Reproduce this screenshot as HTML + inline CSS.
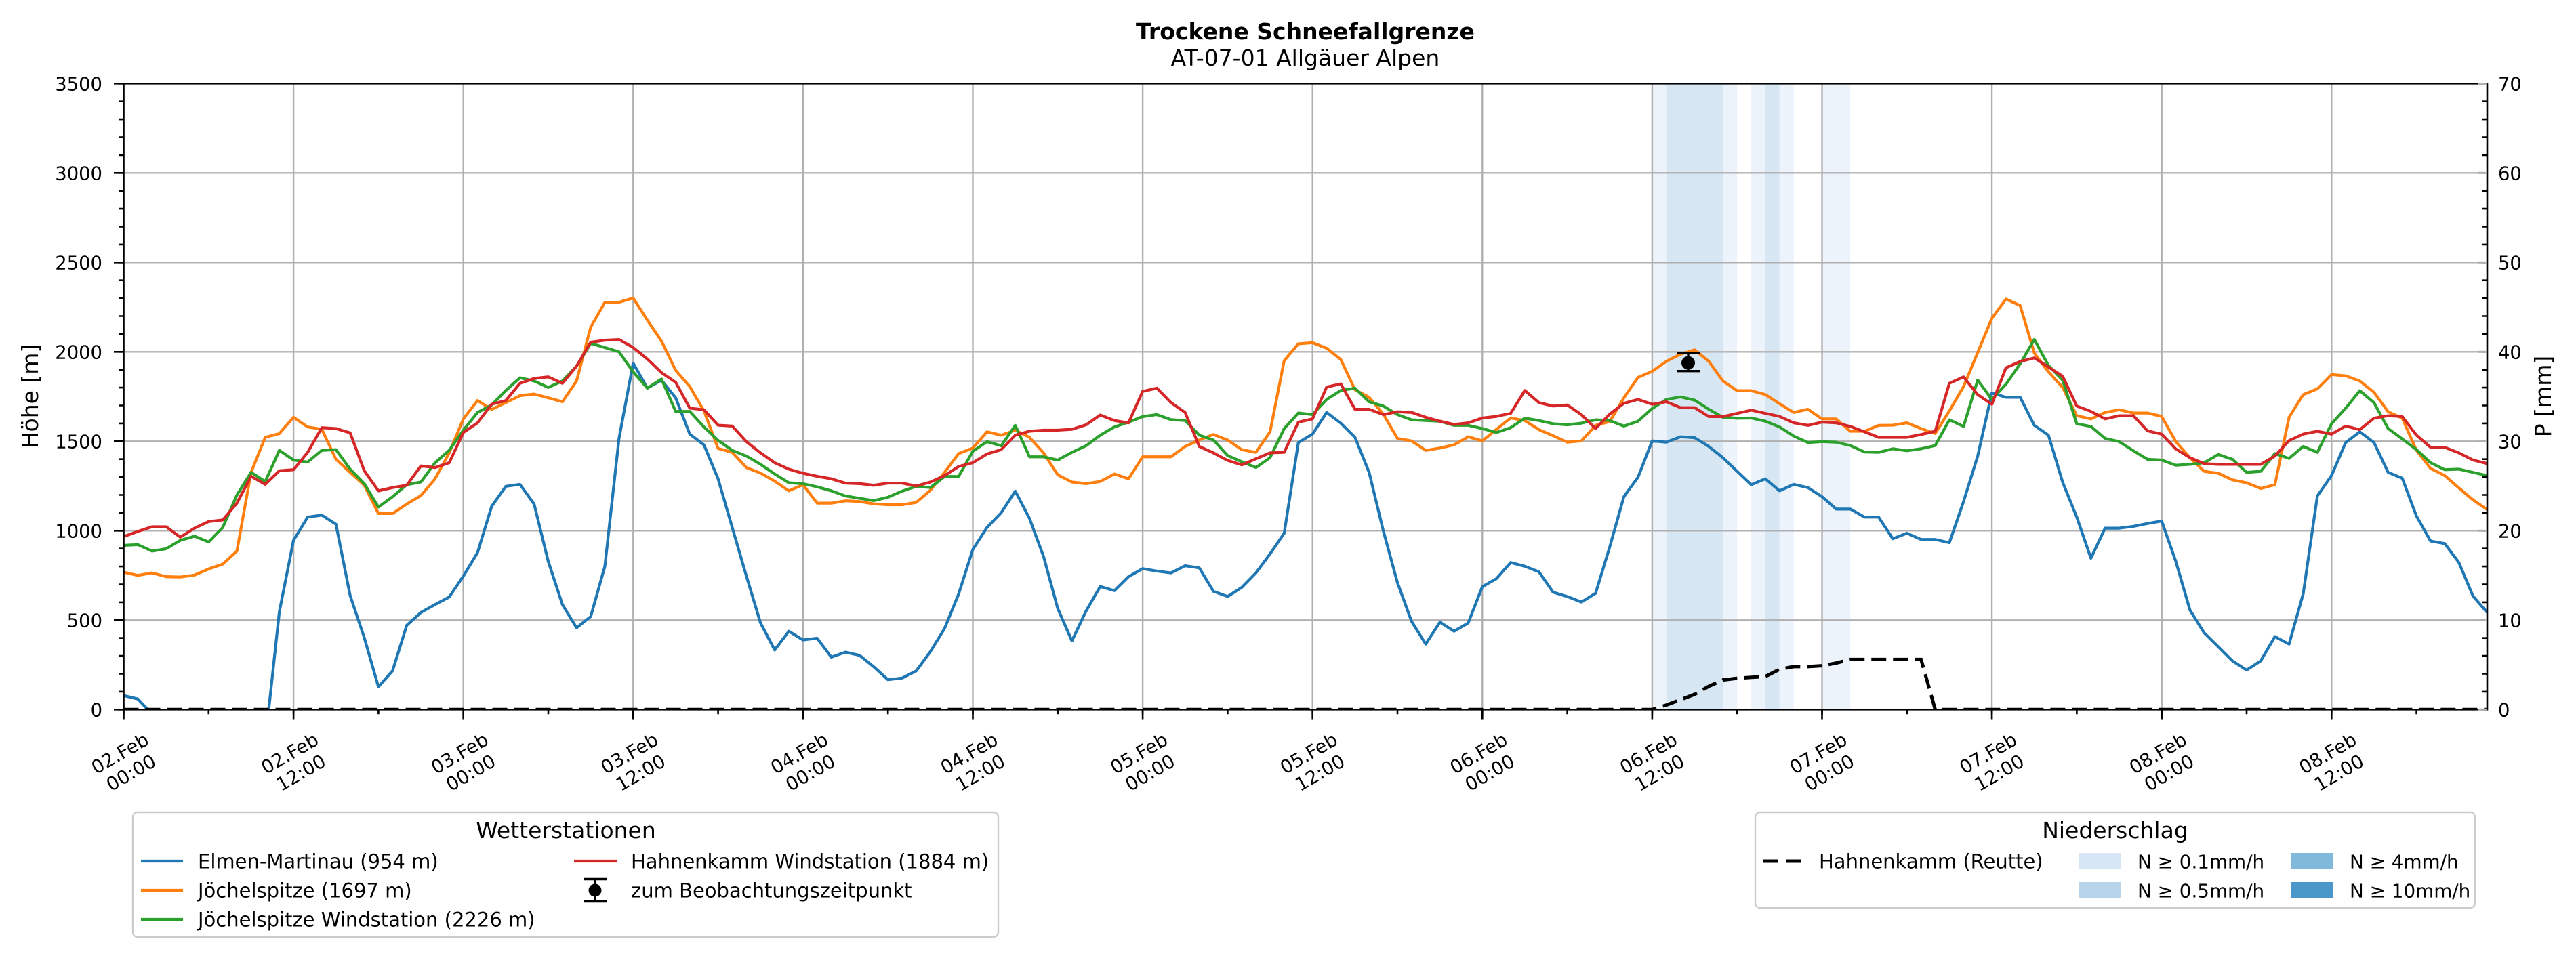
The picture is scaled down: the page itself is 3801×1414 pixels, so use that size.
<!DOCTYPE html>
<html>
<head>
<meta charset="utf-8">
<style>
html,body{margin:0;padding:0;background:#fff;}
svg{display:block;}
text{font-family:"DejaVu Sans","Liberation Sans",sans-serif;fill:#000;}
</style>
</head>
<body>
<svg width="3801" height="1414" viewBox="0 0 3801 1414" xmlns="http://www.w3.org/2000/svg">
<defs>
<clipPath id="ax"><rect x="182.5" y="123.3" width="3487.5" height="924"/></clipPath>
</defs>
<rect x="0" y="0" width="3801" height="1414" fill="#fff"/>

<!-- Title -->
<text x="1926" y="58" font-size="33" font-weight="bold" text-anchor="middle">Trockene Schneefallgrenze</text>
<text x="1926" y="97" font-size="33" text-anchor="middle">AT-07-01 Allgäuer Alpen</text>

<!-- precipitation shading -->
<g>
<rect x="2437.9" y="123.3" width="20.8" height="924" fill="#ecf3fa"/>
<rect x="2458.7" y="123.3" width="83.6" height="924" fill="#d7e6f3"/>
<rect x="2542.3" y="123.3" width="20.9" height="924" fill="#ecf3fa"/>
<rect x="2584.0" y="123.3" width="20.9" height="924" fill="#ecf3fa"/>
<rect x="2604.9" y="123.3" width="20.9" height="924" fill="#d7e6f3"/>
<rect x="2625.8" y="123.3" width="20.9" height="924" fill="#ecf3fa"/>
<rect x="2688.5" y="123.3" width="41.7" height="924" fill="#ecf3fa"/>
</g>

<!-- grid -->
<path fill="none" stroke="#b0b0b0" stroke-width="2.4" d="
M433.1,123.3V1047.3 M683.7,123.3V1047.3 M934.3,123.3V1047.3 M1184.9,123.3V1047.3 M1435.5,123.3V1047.3
M1686.1,123.3V1047.3 M1936.7,123.3V1047.3 M2187.3,123.3V1047.3 M2437.9,123.3V1047.3 M2688.5,123.3V1047.3
M2939.1,123.3V1047.3 M3189.7,123.3V1047.3 M3440.3,123.3V1047.3
M182.5,915.3H3670 M182.5,783.3H3670 M182.5,651.3H3670 M182.5,519.3H3670 M182.5,387.3H3670 M182.5,255.3H3670"/>

<!-- series -->
<g clip-path="url(#ax)">
<g transform="translate(182.5,1047.3) scale(20.883,-0.264)" fill="none" stroke-width="4.2" stroke-linejoin="round">
<polyline vector-effect="non-scaling-stroke" stroke="#1f77b4" points="0,78 1,59 2,-25 3,-300 4,-300 5,-300 6,-300 7,-300 8,-300 9,-300 10,-182 11,547 12,946 13,1076 14,1087 15,1036 16,638 17,402 18,127 19,217 20,471 21,543 22,587 23,629 24,746 25,877 26,1136 27,1248 28,1259 29,1149 30,828 31,587 32,457 33,520 34,801 35,1516 36,1937 37,1797 38,1842 39,1743 40,1540 41,1480 42,1290 43,1018 44,746 45,484 46,333 47,438 48,389 49,399 50,293 51,321 52,303 53,239 54,167 55,176 56,216 57,324 58,453 59,647 60,895 61,1018 62,1100 63,1221 64,1069 65,855 66,565 67,384 68,551 69,688 70,665 71,743 72,788 73,774 74,764 75,804 76,792 77,661 78,632 79,683 80,764 81,870 82,986 83,1493 84,1540 85,1661 86,1601 87,1522 88,1326 89,1000 90,710 91,493 92,366 93,489 94,438 95,484 96,687 97,732 98,822 99,801 100,770 101,656 102,632 103,601 104,650 105,909 106,1190 107,1299 108,1502 109,1495 110,1525 111,1520 112,1471 113,1408 114,1332 115,1257 116,1290 117,1223 118,1259 119,1241 120,1190 121,1121 122,1121 123,1076 124,1076 125,955 126,986 127,951 128,951 129,933 130,1163 131,1417 132,1770 133,1746 134,1746 135,1589 136,1534 137,1272 138,1076 139,846 140,1014 141,1014 142,1024 143,1040 144,1054 145,828 146,556 147,429 148,351 149,272 150,221 151,272 152,408 153,366 154,647 155,1194 156,1308 157,1493 158,1553 159,1493 160,1326 161,1293 162,1082 163,942 164,928 165,822 166,634 167,543"/>
<polyline vector-effect="non-scaling-stroke" stroke="#ff7f0e" points="0,768 1,750 2,764 3,743 4,741 5,752 6,786 7,813 8,886 9,1326 10,1522 11,1543 12,1634 13,1580 14,1567 15,1399 16,1326 17,1254 18,1096 19,1096 20,1149 21,1196 22,1290 23,1435 24,1625 25,1728 26,1678 27,1716 28,1755 29,1764 30,1743 31,1721 32,1837 33,2138 34,2277 35,2277 36,2301 37,2177 38,2060 39,1897 40,1806 41,1670 42,1460 43,1438 44,1353 45,1322 46,1277 47,1223 48,1257 49,1154 50,1154 51,1167 52,1163 53,1150 54,1145 55,1145 56,1158 57,1226 58,1326 59,1431 60,1462 61,1553 62,1534 63,1562 64,1522 65,1435 66,1312 67,1272 68,1263 69,1275 70,1317 71,1290 72,1413 73,1413 74,1413 75,1471 76,1507 77,1538 78,1507 79,1453 80,1438 81,1553 82,1951 83,2045 84,2051 85,2020 86,1957 87,1788 88,1746 89,1652 90,1516 91,1502 92,1449 93,1462 94,1480 95,1525 96,1502 97,1567 98,1630 99,1616 100,1565 101,1531 102,1495 103,1502 104,1589 105,1610 106,1743 107,1857 108,1891 109,1947 110,1987 111,2011 112,1947 113,1837 114,1783 115,1783 116,1761 117,1710 118,1661 119,1679 120,1625 121,1625 122,1556 123,1556 124,1589 125,1590 126,1603 127,1571 128,1543 129,1670 130,1806 131,1996 132,2187 133,2295 134,2259 135,1993 136,1888 137,1801 138,1643 139,1625 140,1661 141,1676 142,1658 143,1658 144,1639 145,1498 146,1408 147,1332 148,1321 149,1284 150,1268 151,1236 152,1257 153,1634 154,1761 155,1793 156,1873 157,1866 158,1837 159,1774 160,1665 161,1629 162,1449 163,1348 164,1308 165,1239 166,1172 167,1118"/>
<polyline vector-effect="non-scaling-stroke" stroke="#2ca02c" points="0,918 1,922 2,886 3,899 4,946 5,969 6,937 7,1018 8,1199 9,1326 10,1275 11,1449 12,1395 13,1384 14,1449 15,1453 16,1344 17,1263 18,1132 19,1190 20,1257 21,1272 22,1380 23,1449 24,1562 25,1661 26,1703 27,1784 28,1855 29,1837 30,1801 31,1837 32,1920 33,2047 34,2024 35,2000 36,1888 37,1797 38,1848 39,1667 40,1667 41,1580 42,1505 43,1449 44,1417 45,1371 46,1317 47,1268 48,1263 49,1245 50,1223 51,1194 52,1181 53,1168 54,1187 55,1221 56,1248 57,1241 58,1303 59,1304 60,1444 61,1498 62,1475 63,1589 64,1413 65,1413 66,1395 67,1438 68,1475 69,1534 70,1580 71,1607 72,1638 73,1649 74,1621 75,1616 76,1534 77,1507 78,1420 79,1386 80,1353 81,1408 82,1571 83,1658 84,1649 85,1734 86,1784 87,1797 88,1721 89,1697 90,1649 91,1620 92,1616 93,1612 94,1589 95,1589 96,1571 97,1549 98,1576 99,1629 100,1616 101,1598 102,1592 103,1601 104,1620 105,1616 106,1585 107,1612 108,1683 109,1734 110,1748 111,1730 112,1679 113,1634 114,1629 115,1630 116,1612 117,1580 118,1529 119,1493 120,1498 121,1495 122,1476 123,1440 124,1438 125,1458 126,1447 127,1458 128,1476 129,1620 130,1583 131,1842 132,1734 133,1819 134,1933 135,2069 136,1924 137,1842 138,1598 139,1583 140,1516 141,1498 142,1447 143,1399 144,1395 145,1366 146,1371 147,1380 148,1426 149,1399 150,1326 151,1332 152,1431 153,1404 154,1471 155,1438 156,1598 157,1685 158,1783 159,1716 160,1571 161,1513 162,1453 163,1380 164,1341 165,1344 166,1326 167,1308"/>
<polyline vector-effect="non-scaling-stroke" stroke="#d62728" points="0,967 1,996 2,1022 3,1022 4,964 5,1014 6,1051 7,1060 8,1154 9,1304 10,1259 11,1335 12,1341 13,1438 14,1576 15,1571 16,1547 17,1335 18,1223 19,1241 20,1254 21,1362 22,1353 23,1380 24,1549 25,1603 26,1707 27,1728 28,1824 29,1851 30,1860 31,1824 32,1920 33,2054 34,2065 35,2069 36,2024 37,1960 38,1884 39,1830 40,1685 41,1676 42,1590 43,1585 44,1498 45,1435 46,1380 47,1344 48,1321 49,1304 50,1290 51,1266 52,1263 53,1254 54,1266 55,1266 56,1250 57,1272 58,1308 59,1359 60,1380 61,1429 62,1453 63,1534 64,1556 65,1562 66,1562 67,1567 68,1592 69,1647 70,1616 71,1603 72,1779 73,1797 74,1716 75,1661 76,1471 77,1435 78,1393 79,1368 80,1402 81,1435 82,1438 83,1607 84,1625 85,1803 86,1821 87,1679 88,1679 89,1649 90,1665 91,1661 92,1634 93,1612 94,1594 95,1603 96,1630 97,1639 98,1656 99,1784 100,1716 101,1697 102,1703 103,1649 104,1571 105,1652 106,1712 107,1734 108,1707 109,1721 110,1688 111,1688 112,1638 113,1638 114,1656 115,1674 116,1656 117,1639 118,1603 119,1589 120,1607 121,1603 122,1583 123,1553 124,1522 125,1522 126,1522 127,1538 128,1556 129,1824 130,1860 131,1761 132,1707 133,1911 134,1946 135,1966 136,1915 137,1864 138,1697 139,1667 140,1625 141,1643 142,1643 143,1558 144,1540 145,1457 146,1408 147,1375 148,1371 149,1371 150,1371 151,1371 152,1417 153,1504 154,1540 155,1556 156,1540 157,1585 158,1565 159,1629 160,1643 161,1638 162,1534 163,1466 164,1466 165,1435 166,1395 167,1375"/>
</g>
<!-- precipitation sum (dashed) -->
<polyline fill="none" stroke="#000" stroke-width="5" stroke-dasharray="22 10" points="182.5,1047.3 2437.9,1047.3 2458.7,1040.7 2479.6,1032.8 2500.5,1024.9 2521.4,1013.0 2542.3,1003.7 2563.2,1001.1 2584.0,999.8 2604.9,998.5 2625.8,987.9 2646.7,983.9 2667.6,983.9 2688.5,982.6 2709.3,978.7 2730.2,973.4 2834.6,973.4 2855.5,1047.3 3670,1047.3"/>
</g>

<!-- observation errorbar -->
<g stroke="#000" stroke-width="3.4">
<line x1="2491" y1="520.7" x2="2491" y2="547.7"/>
<line x1="2474" y1="520.7" x2="2508" y2="520.7"/>
<line x1="2474" y1="547.7" x2="2508" y2="547.7"/>
</g>
<circle cx="2491" cy="535.6" r="10" fill="#000"/>

<!-- spines -->
<rect x="182.5" y="123.3" width="3487.5" height="924" fill="none" stroke="#000" stroke-width="2.6"/>

<!-- ticks -->
<g fill="none">
<path d="M179,1048.6 L179,122" stroke="#000" stroke-width="7" stroke-dasharray="2.6 23.8"/>
<path d="M175.25,1048.6 L175.25,122" stroke="#000" stroke-width="14.5" stroke-dasharray="2.6 129.4"/>
<path d="M3666.5,1048.6 L3666.5,122" stroke="#000" stroke-width="7" stroke-dasharray="2.6 23.8"/>
<path d="M3663,1048.6 L3663,122" stroke="#b0b0b0" stroke-width="14" stroke-dasharray="3.2 128.8" stroke-dashoffset="0.3"/>
<path d="M181.2,1050.8 L3672,1050.8" stroke="#000" stroke-width="7" stroke-dasharray="2.6 122.7"/>
<path d="M181.2,1054.4 L3672,1054.4" stroke="#000" stroke-width="14.2" stroke-dasharray="2.6 248"/>
</g>

<!-- left tick labels -->
<g font-size="27.4" text-anchor="end">
<text x="151" y="1057.3">0</text>
<text x="151" y="925.3">500</text>
<text x="151" y="793.3">1000</text>
<text x="151" y="661.3">1500</text>
<text x="151" y="529.3">2000</text>
<text x="151" y="397.3">2500</text>
<text x="151" y="265.3">3000</text>
<text x="151" y="133.3">3500</text>
</g>
<!-- right tick labels -->
<g font-size="27.4" text-anchor="start">
<text x="3686" y="1057.3">0</text>
<text x="3686" y="925.3">10</text>
<text x="3686" y="793.3">20</text>
<text x="3686" y="661.3">30</text>
<text x="3686" y="529.3">40</text>
<text x="3686" y="397.3">50</text>
<text x="3686" y="265.3">60</text>
<text x="3686" y="133.3">70</text>
</g>

<!-- axis labels -->
<text font-size="33" text-anchor="middle" transform="translate(56,585) rotate(-90)">Höhe [m]</text>
<text font-size="33" text-anchor="middle" transform="translate(3764,585) rotate(-90)">P [mm]</text>

<!-- x tick labels -->
<g font-size="27.4" text-anchor="middle">
<text transform="translate(185,1126) rotate(-30)"><tspan x="0" y="-6.5">02.Feb</tspan><tspan x="0" y="26.4">00:00</tspan></text>
<text transform="translate(435.6,1126) rotate(-30)"><tspan x="0" y="-6.5">02.Feb</tspan><tspan x="0" y="26.4">12:00</tspan></text>
<text transform="translate(686.2,1126) rotate(-30)"><tspan x="0" y="-6.5">03.Feb</tspan><tspan x="0" y="26.4">00:00</tspan></text>
<text transform="translate(936.8,1126) rotate(-30)"><tspan x="0" y="-6.5">03.Feb</tspan><tspan x="0" y="26.4">12:00</tspan></text>
<text transform="translate(1187.4,1126) rotate(-30)"><tspan x="0" y="-6.5">04.Feb</tspan><tspan x="0" y="26.4">00:00</tspan></text>
<text transform="translate(1438,1126) rotate(-30)"><tspan x="0" y="-6.5">04.Feb</tspan><tspan x="0" y="26.4">12:00</tspan></text>
<text transform="translate(1688.6,1126) rotate(-30)"><tspan x="0" y="-6.5">05.Feb</tspan><tspan x="0" y="26.4">00:00</tspan></text>
<text transform="translate(1939.2,1126) rotate(-30)"><tspan x="0" y="-6.5">05.Feb</tspan><tspan x="0" y="26.4">12:00</tspan></text>
<text transform="translate(2189.8,1126) rotate(-30)"><tspan x="0" y="-6.5">06.Feb</tspan><tspan x="0" y="26.4">00:00</tspan></text>
<text transform="translate(2440.4,1126) rotate(-30)"><tspan x="0" y="-6.5">06.Feb</tspan><tspan x="0" y="26.4">12:00</tspan></text>
<text transform="translate(2691,1126) rotate(-30)"><tspan x="0" y="-6.5">07.Feb</tspan><tspan x="0" y="26.4">00:00</tspan></text>
<text transform="translate(2941.6,1126) rotate(-30)"><tspan x="0" y="-6.5">07.Feb</tspan><tspan x="0" y="26.4">12:00</tspan></text>
<text transform="translate(3192.2,1126) rotate(-30)"><tspan x="0" y="-6.5">08.Feb</tspan><tspan x="0" y="26.4">00:00</tspan></text>
<text transform="translate(3442.8,1126) rotate(-30)"><tspan x="0" y="-6.5">08.Feb</tspan><tspan x="0" y="26.4">12:00</tspan></text>
</g>

<!-- Legend 1: Wetterstationen -->
<rect x="196" y="1199" width="1277" height="184" rx="7" fill="#fff" stroke="#cccccc" stroke-width="2.4"/>
<text x="835" y="1237" font-size="33" text-anchor="middle">Wetterstationen</text>
<g stroke-width="4.2">
<line x1="208" y1="1271" x2="270" y2="1271" stroke="#1f77b4"/>
<line x1="208" y1="1314" x2="270" y2="1314" stroke="#ff7f0e"/>
<line x1="208" y1="1357" x2="270" y2="1357" stroke="#2ca02c"/>
<line x1="847" y1="1271" x2="911" y2="1271" stroke="#d62728"/>
</g>
<g stroke="#000" stroke-width="3.4">
<line x1="878" y1="1297.5" x2="878" y2="1330.5"/>
<line x1="861" y1="1297.5" x2="896" y2="1297.5"/>
<line x1="861" y1="1330.5" x2="896" y2="1330.5"/>
</g>
<circle cx="878" cy="1314" r="9.5" fill="#000"/>
<g font-size="29">
<text x="292" y="1281.5">Elmen-Martinau (954 m)</text>
<text x="292" y="1324.5">Jöchelspitze (1697 m)</text>
<text x="292" y="1367.5">Jöchelspitze Windstation (2226 m)</text>
<text x="931" y="1281.5">Hahnenkamm Windstation (1884 m)</text>
<text x="931" y="1324.5">zum Beobachtungszeitpunkt</text>
</g>

<!-- Legend 2: Niederschlag -->
<rect x="2590" y="1199" width="1062" height="141" rx="7" fill="#fff" stroke="#cccccc" stroke-width="2.4"/>
<text x="3121" y="1237" font-size="33" text-anchor="middle">Niederschlag</text>
<line x1="2601" y1="1271" x2="2661" y2="1271" stroke="#000" stroke-width="5" stroke-dasharray="22 12"/>
<rect x="3067" y="1259" width="63" height="24" fill="#d6e6f4"/>
<rect x="3067" y="1302" width="63" height="24" fill="#b7d4ea"/>
<rect x="3381" y="1259" width="62" height="24" fill="#81b9db"/>
<rect x="3381" y="1302" width="62" height="24" fill="#4a98c9"/>
<text x="2684" y="1281.5" font-size="29">Hahnenkamm (Reutte)</text>
<g font-size="27.8">
<text x="3154" y="1281.5">N ≥ 0.1mm/h</text>
<text x="3154" y="1324.5">N ≥ 0.5mm/h</text>
<text x="3467" y="1281.5">N ≥ 4mm/h</text>
<text x="3467" y="1324.5">N ≥ 10mm/h</text>
</g>
</svg>
</body>
</html>
